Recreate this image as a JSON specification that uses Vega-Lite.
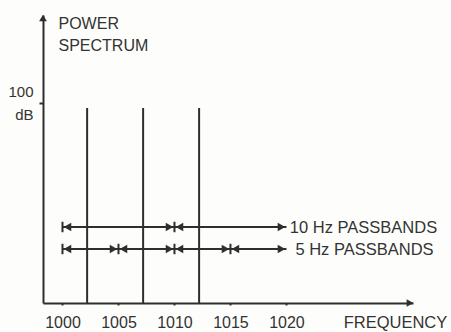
{
  "$schema": "https://vega.github.io/schema/vega-lite/v6.json",
  "width": 370,
  "height": 288,
  "autosize": {"type": "none"},
  "padding": {"left": 43, "top": 15, "right": 38, "bottom": 29},
  "background": "#fdfdfb",
  "config": {
    "view": {"stroke": null},
    "font": "Liberation Sans",
    "axis": {"grid": false}
  },
  "datasets": {
    "peaks": [
      {"freq": 1002.2, "power": 97.5},
      {"freq": 1007.2, "power": 97.5},
      {"freq": 1012.2, "power": 97.5}
    ],
    "bands": [
      {"band": "10 Hz", "level": 38, "start": 1000, "end": 1010},
      {"band": "10 Hz", "level": 38, "start": 1010, "end": 1020},
      {"band": "5 Hz", "level": 27, "start": 1000, "end": 1005},
      {"band": "5 Hz", "level": 27, "start": 1005, "end": 1010},
      {"band": "5 Hz", "level": 27, "start": 1010, "end": 1015},
      {"band": "5 Hz", "level": 27, "start": 1015, "end": 1020}
    ],
    "labels": [
      {"text": "10 Hz PASSBANDS", "level": 38, "freq": 1020.3},
      {"text": "5 Hz PASSBANDS", "level": 27, "freq": 1020.8}
    ]
  },
  "layer": [
    {
      "data": {"name": "peaks"},
      "mark": {"type": "rule", "color": "#2e2e2e", "strokeWidth": 2},
      "encoding": {
        "x": {
          "field": "freq", "type": "quantitative",
          "scale": {"domain": [998.26, 1031.3], "nice": false, "zero": false},
          "axis": {
            "values": [1000, 1005, 1010, 1015, 1020],
            "format": "d",
            "labelFontSize": 16,
            "labelColor": "#333333",
            "labelPadding": 9,
            "tickSize": 2,
            "tickWidth": 2,
            "tickColor": "#2e2e2e",
            "domainColor": "#2e2e2e",
            "domainWidth": 2,
            "title": "FREQUENCY",
            "titleFontSize": 16.5,
            "titleFontWeight": "normal",
            "titleColor": "#333333",
            "titleX": 352,
            "titleY": 11,
            "titleAlign": "center",
            "titleBaseline": "top",
            "titleAngle": 0
          }
        },
        "y": {
          "field": "power", "type": "quantitative",
          "scale": {"domain": [0, 144], "nice": false, "zero": false},
          "axis": {
            "values": [100],
            "labelExpr": "['100', 'dB']",
            "labelFontSize": 15,
            "labelColor": "#333333",
            "labelLineHeight": 23,
            "labelBaseline": "middle",
            "labelOffset": -11.5,
            "labelPadding": 6,
            "tickSize": 4,
            "tickWidth": 2,
            "tickColor": "#2e2e2e",
            "domainColor": "#2e2e2e",
            "domainWidth": 2,
            "title": ["POWER", "SPECTRUM"],
            "titleFontSize": 16,
            "titleFontWeight": "normal",
            "titleColor": "#333333",
            "titleAngle": 0,
            "titleAlign": "left",
            "titleBaseline": "top",
            "titleX": 15,
            "titleY": 0,
            "titleLineHeight": 22
          }
        },
        "y2": {"datum": 0}
      }
    },
    {
      "data": {"name": "bands"},
      "mark": {"type": "rule", "color": "#2e2e2e", "strokeWidth": 2},
      "encoding": {
        "x": {"field": "start", "type": "quantitative", "scale": {"domain": [998.26, 1031.3], "nice": false, "zero": false}},
        "x2": {"field": "end"},
        "y": {"field": "level", "type": "quantitative", "scale": {"domain": [0, 144], "nice": false, "zero": false}}
      }
    },
    {
      "data": {"name": "bands"},
      "mark": {"type": "point", "shape": "M0,-1V1", "size": 110, "filled": false, "stroke": "#2e2e2e", "strokeWidth": 2, "opacity": 1},
      "encoding": {
        "x": {"field": "start", "type": "quantitative", "scale": {"domain": [998.26, 1031.3], "nice": false, "zero": false}},
        "y": {"field": "level", "type": "quantitative", "scale": {"domain": [0, 144], "nice": false, "zero": false}}
      }
    },
    {
      "data": {"name": "bands"},
      "mark": {"type": "point", "shape": "triangle-left", "size": 75, "filled": true, "color": "#2e2e2e", "opacity": 1, "xOffset": 5},
      "encoding": {
        "x": {"field": "start", "type": "quantitative", "scale": {"domain": [998.26, 1031.3], "nice": false, "zero": false}},
        "y": {"field": "level", "type": "quantitative", "scale": {"domain": [0, 144], "nice": false, "zero": false}}
      }
    },
    {
      "data": {"name": "bands"},
      "mark": {"type": "point", "shape": "triangle-right", "size": 75, "filled": true, "color": "#2e2e2e", "opacity": 1, "xOffset": -5},
      "encoding": {
        "x": {"field": "end", "type": "quantitative", "scale": {"domain": [998.26, 1031.3], "nice": false, "zero": false}},
        "y": {"field": "level", "type": "quantitative", "scale": {"domain": [0, 144], "nice": false, "zero": false}}
      }
    },
    {
      "data": {"name": "labels"},
      "mark": {"type": "text", "align": "left", "baseline": "middle", "fontSize": 16.5, "color": "#333333", "dy": 1},
      "encoding": {
        "x": {"field": "freq", "type": "quantitative", "scale": {"domain": [998.26, 1031.3], "nice": false, "zero": false}},
        "y": {"field": "level", "type": "quantitative", "scale": {"domain": [0, 144], "nice": false, "zero": false}},
        "text": {"field": "text"}
      }
    },
    {
      "data": {"values": [{"axis": "x"}]},
      "mark": {"type": "point", "shape": "triangle-right", "size": 60, "filled": true, "color": "#2e2e2e", "opacity": 1, "xOffset": -3},
      "encoding": {
        "x": {"datum": 1031.3, "type": "quantitative", "scale": {"domain": [998.26, 1031.3], "nice": false, "zero": false}},
        "y": {"datum": 0, "type": "quantitative", "scale": {"domain": [0, 144], "nice": false, "zero": false}}
      }
    },
    {
      "data": {"values": [{"axis": "y"}]},
      "mark": {"type": "point", "shape": "triangle-up", "size": 60, "filled": true, "color": "#2e2e2e", "opacity": 1, "yOffset": 3},
      "encoding": {
        "x": {"datum": 998.26, "type": "quantitative", "scale": {"domain": [998.26, 1031.3], "nice": false, "zero": false}},
        "y": {"datum": 144, "type": "quantitative", "scale": {"domain": [0, 144], "nice": false, "zero": false}}
      }
    }
  ]
}
